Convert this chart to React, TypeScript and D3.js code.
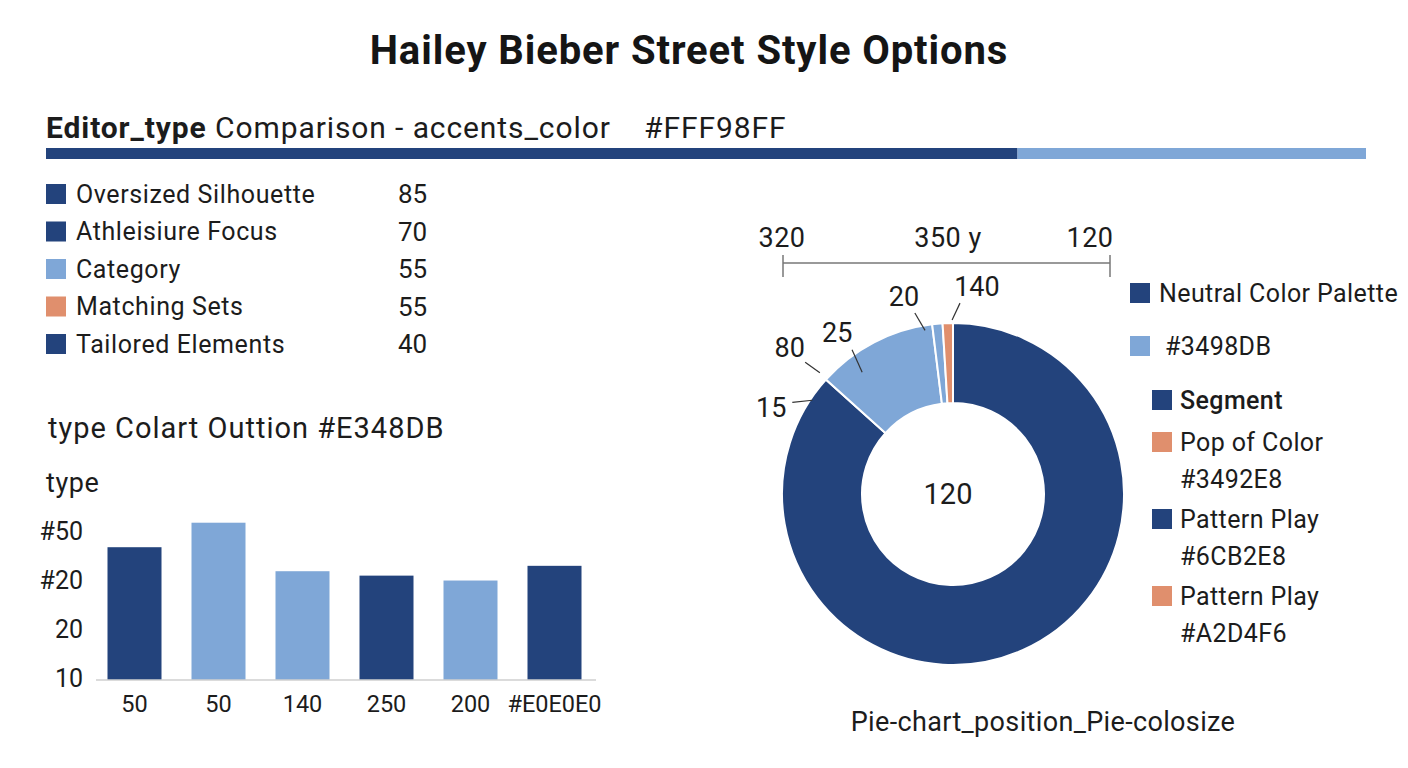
import React from "react";
import * as d3 from "d3";

const FONT = "Roboto, 'Noto Sans', sans-serif";
const DARK = "#23437C";
const LIGHT = "#7FA7D7";
const ORANGE = "#E08F6D";

const titleText = "Hailey Bieber Street Style Options";
const subtitleBold = "Editor_type";
const subtitleRest = " Comparison - accents_color    #FFF98FF";
const progressValues = [73.6, 26.4];
const progressColors = [DARK, "#7FA7D7"];

const legendLabels = ["Oversized Silhouette", "Athleisiure Focus", "Category", "Matching Sets", "Tailored Elements"];
const legendValues = [85, 70, 55, 55, 40];
const legendColors = [DARK, DARK, LIGHT, ORANGE, DARK];

const barTitle = "type Colart Outtion #E348DB";
const barYTitle = "type";
const barCategories = ["50", "50", "140", "250", "200", "#E0E0E0"];
const barValues = [37.1, 42.1, 32.2, 31.3, 30.3, 33.3];
const barColors = [DARK, LIGHT, LIGHT, DARK, LIGHT, DARK];
const yTickValues = [10, 20, 30, 40];
const yTickLabels = ["10", "20", "#20", "#50"];

const pieLabels = ["Neutral Color Palette", "#3498DB", "Accent", "Pop of Color"];
const pieValues = [312, 41, 3.5, 3.5];
const pieColors = [DARK, LIGHT, LIGHT, ORANGE];
const pieCenterText = "120";

const bracketLabels = ["320", "350 y", "120"];

const calloutTexts = ["15", "80", "25", "20", "140"];
// polar layout of callouts: [textDeg, textR, outerDeg, outerR, innerDeg, innerR]
const calloutLayout = [
  [-64.7, 201, -60.3, 185, -56.3, 169],
  [-48.2, 219, -48.3, 198, -47.7, 180],
  [-35.8, 198, -35.0, 176, -36.7, 152],
  [-14.0, 203, -11.9, 185, -9.7, 166],
  [6.6, 208, 2.1, 191, -0.3, 174],
];

const rightLegendLines = [
  ["Neutral Color Palette"],
  ["#3498DB"],
  ["Segment"],
  ["Pop of Color", "#3492E8"],
  ["Pattern Play", "#6CB2E8"],
  ["Pattern Play", "#A2D4F6"],
];
const rightLegendColors = [DARK, LIGHT, DARK, ORANGE, DARK, ORANGE];

const footerText = "Pie-chart_position_Pie-colosize";

export default function App() {
  const W = 1408;
  const H = 768;

  const px = d3.scaleLinear().domain([0, d3.sum(progressValues)]).range([46, 1366]);
  let acc = 0;
  const progress = progressValues.map((v, i) => {
    const x0 = px(acc);
    acc += v;
    return { x0, x1: px(acc), c: progressColors[i] };
  });

  const xb = d3
    .scaleBand<number>()
    .domain(barValues.map((_, i) => i))
    .range([92.5, 596.5])
    .paddingInner(30 / 84)
    .paddingOuter(15 / 84);
  const yb = d3.scaleLinear().domain([10, 40]).range([680, 533]);

  const cx = 953;
  const cy = 494;
  const rOut = 171;
  const rIn = 91;
  const pie = d3.pie<number>().sort(null).startAngle(0).endAngle(Math.PI * 2);
  const arcs = pie(pieValues);
  const arcGen = d3.arc<d3.PieArcDatum<number>>().innerRadius(rIn).outerRadius(rOut);
  const polar = (deg: number, r: number) => {
    const a = (deg * Math.PI) / 180;
    return [cx + r * Math.sin(a), cy - r * Math.cos(a)];
  };

  const bx = d3.scalePoint<string>().domain(bracketLabels).range([783, 1110]);
  const txt = "#1c1c1c";

  return (
    <svg
      width={W}
      height={H}
      style={{ position: "absolute", left: 0, top: 0, background: "#fff" }}
      fontFamily={FONT}
    >
      <rect x={0} y={0} width={W} height={H} fill="#fff" />
      <text x={689} y={64} textAnchor="middle" fontSize={40} fontWeight={700} letterSpacing={0.9} fill="#151515">
        {titleText}
      </text>
      <text x={46} y={138} fontSize={30} letterSpacing={0.9} fill={txt}>
        <tspan fontWeight={700}>{subtitleBold}</tspan>
        <tspan style={{ whiteSpace: "pre" }}>{subtitleRest}</tspan>
      </text>
      {progress.map((p, i) => (
        <rect key={i} x={p.x0} y={148} width={p.x1 - p.x0} height={11} fill={p.c} />
      ))}

      {legendLabels.map((l, i) => {
        const y = 194 + i * 37.5;
        return (
          <g key={i}>
            <rect x={46} y={y - 10} width={20} height={20} fill={legendColors[i]} />
            <text x={76} y={y} dominantBaseline="central" fontSize={25} letterSpacing={0.6} fill={txt}>
              {l}
            </text>
            <text x={398} y={y} dominantBaseline="central" fontSize={26} fill={txt}>
              {legendValues[i]}
            </text>
          </g>
        );
      })}

      <text x={48} y={438} fontSize={29} letterSpacing={1} fill={txt}>
        {barTitle}
      </text>
      <text x={46} y={492} fontSize={27} letterSpacing={0.6} fill={txt}>
        {barYTitle}
      </text>
      {yTickValues.map((t, i) => (
        <text key={i} x={83} y={yb(t)} dy={-2} dominantBaseline="central" textAnchor="end" fontSize={25} fill={txt}>
          {yTickLabels[i]}
        </text>
      ))}
      {barValues.map((v, i) => (
        <rect key={i} x={xb(i)} y={yb(v)} width={xb.bandwidth()} height={yb(10) - yb(v)} fill={barColors[i]} />
      ))}
      <line x1={96} x2={596} y1={yb(10)} y2={yb(10)} stroke="#cfcfcf" strokeWidth={1.5} />
      {barCategories.map((c, i) => (
        <text key={i} x={(xb(i) as number) + xb.bandwidth() / 2} y={712} textAnchor="middle" fontSize={23.5} fill={txt}>
          {c}
        </text>
      ))}

      <line x1={bx("320")} x2={bx("120")} y1={263} y2={263} stroke="#777" strokeWidth={1.5} />
      <line x1={bx("320")} x2={bx("320")} y1={255} y2={277} stroke="#777" strokeWidth={1.5} />
      <line x1={bx("120")} x2={bx("120")} y1={255} y2={277} stroke="#777" strokeWidth={1.5} />
      {bracketLabels.map((l, i) => (
        <text
          key={i}
          x={i === 0 ? 782 : i === 1 ? 948 : 1090}
          y={247}
          textAnchor="middle"
          fontSize={27}
          letterSpacing={0.5}
          fill={txt}
        >
          {l}
        </text>
      ))}

      <g transform={`translate(${cx},${cy})`}>
        {arcs.map((a, i) => (
          <path key={i} d={arcGen(a) || ""} fill={pieColors[i]} stroke="#fff" strokeWidth={2} />
        ))}
      </g>
      <text x={948} y={494} textAnchor="middle" dominantBaseline="central" fontSize={29} fill={txt}>
        {pieCenterText}
      </text>
      {calloutTexts.map((t, i) => {
        const [td, tr, od, or, id, ir] = calloutLayout[i];
        const [tx, ty] = polar(td, tr);
        const [ox, oy] = polar(od, or);
        const [ix, iy] = polar(id, ir);
        return (
          <g key={i}>
            <line x1={ox} y1={oy} x2={ix} y2={iy} stroke="#333" strokeWidth={1.2} />
            <text x={tx} y={ty} textAnchor="middle" dominantBaseline="central" fontSize={27} fill={txt}>
              {t}
            </text>
          </g>
        );
      })}

      {rightLegendLines.map((lines, i) => {
        const ys = [293, 346, 400, 442, 519, 596];
        const xs = [1130, 1130, 1152, 1152, 1152, 1152];
        const tx = [1159, 1165, 1180, 1180, 1180, 1180];
        return (
          <g key={i}>
            <rect x={xs[i]} y={ys[i] - 10} width={20} height={20} fill={rightLegendColors[i]} />
            {lines.map((l, j) => (
              <text
                key={j}
                x={tx[i]}
                y={ys[i] + j * 37.5}
                dominantBaseline="central"
                fontSize={25}
                letterSpacing={0.4}
                fontWeight={i === 2 ? 500 : 400}
                fill={txt}
              >
                {l}
              </text>
            ))}
          </g>
        );
      })}

      <text x={1043} y={731} textAnchor="middle" fontSize={27} letterSpacing={0.35} fill={txt}>
        {footerText}
      </text>
    </svg>
  );
}
